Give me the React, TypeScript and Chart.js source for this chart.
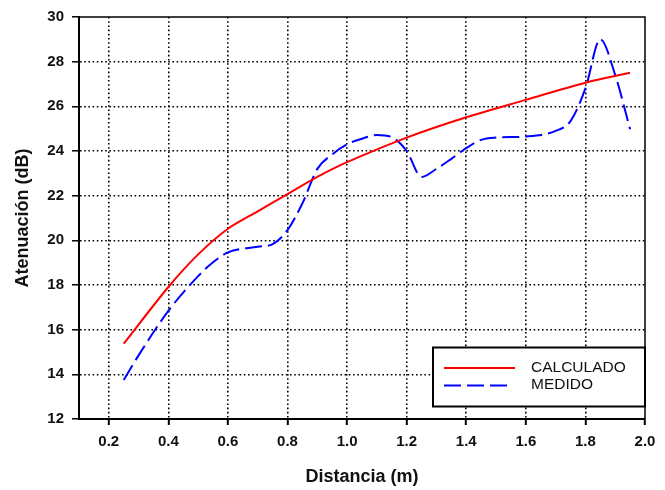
import React, { useEffect, useRef } from "react";
import { Chart, registerables } from "chart.js";

Chart.register(...registerables);

const calcX = [0.25, 0.4, 0.5, 0.6, 0.7, 0.8, 0.9, 1.0, 1.2, 1.4, 1.6, 1.8, 1.95];
const calcY = [15.37, 17.91, 19.37, 20.52, 21.3, 22.07, 22.84, 23.5, 24.6, 25.51, 26.29, 27.06, 27.5];

const medX = [0.25, 0.3, 0.4, 0.5, 0.55, 0.6, 0.7, 0.75, 0.8, 0.85, 0.9, 0.95, 1.0, 1.05, 1.1, 1.15, 1.2, 1.25, 1.3, 1.35, 1.4, 1.45, 1.5, 1.6, 1.7, 1.75, 1.8, 1.85, 1.9, 1.95];
const medY = [13.75, 14.85, 16.84, 18.4, 19.02, 19.46, 19.71, 19.83, 20.46, 21.66, 23.2, 23.85, 24.3, 24.55, 24.72, 24.62, 24.0, 22.84, 23.2, 23.65, 24.13, 24.5, 24.6, 24.65, 24.9, 25.34, 26.8, 29.0, 27.4, 24.97];

const xTicks = [0.2, 0.4, 0.6, 0.8, 1.0, 1.2, 1.4, 1.6, 1.8, 2.0];
const yTicks = [12, 14, 16, 18, 20, 22, 24, 26, 28, 30];

const seriesLabels = ["CALCULADO", "MEDIDO"];
const xTitle = "Distancia (m)";
const yTitle = "Atenuación (dB)";

const FONT = "'Liberation Sans', Arial, sans-serif";
const TEXT = "#111";

const framePlugin = {
  id: "frame",
  afterDatasetsDraw(chart: any) {
    const { ctx, chartArea } = chart;
    ctx.save();
    ctx.strokeStyle = "#000";
    ctx.lineWidth = 1.5;
    ctx.setLineDash([]);
    ctx.beginPath();
    ctx.moveTo(chartArea.left, chartArea.top);
    ctx.lineTo(chartArea.right, chartArea.top);
    ctx.lineTo(chartArea.right, chartArea.bottom);
    ctx.stroke();
    ctx.restore();
  },
};

const boxLegendPlugin = {
  id: "boxLegend",
  afterDraw(chart: any) {
    const { ctx, chartArea } = chart;
    const w = 212;
    const h = 59;
    const right = chartArea.right;
    const bottom = chartArea.bottom - 12.5;
    const left = right - w;
    const top = bottom - h;
    ctx.save();
    ctx.fillStyle = "#fff";
    ctx.fillRect(left, top, w, h);
    ctx.strokeStyle = "#000";
    ctx.lineWidth = 2;
    ctx.setLineDash([]);
    ctx.strokeRect(left, top, w, h);
    chart.data.datasets.forEach((ds: any, i: number) => {
      const y = top + 20.5 + i * 17.5;
      ctx.beginPath();
      ctx.setLineDash(ds.borderDash || []);
      ctx.strokeStyle = ds.borderColor;
      ctx.lineWidth = ds.borderWidth;
      ctx.moveTo(left + 11, y);
      ctx.lineTo(left + (i === 0 ? 82 : 75), y);
      ctx.stroke();
      ctx.setLineDash([]);
      ctx.fillStyle = TEXT;
      ctx.font = `15.5px ${FONT}`;
      ctx.textBaseline = "middle";
      ctx.textAlign = "left";
      ctx.fillText(ds.label, left + 98, y - 0.5);
    });
    ctx.restore();
  },
};

export default function App() {
  const ref = useRef<HTMLCanvasElement | null>(null);

  useEffect(() => {
    if (!ref.current) return;
    const chart = new Chart(ref.current, {
      type: "line",
      data: {
        datasets: [
          {
            label: seriesLabels[0],
            data: calcX.map((x, i) => ({ x, y: calcY[i] })),
            borderColor: "#ff0000",
            borderWidth: 2,
            pointRadius: 0,
            fill: false,
            tension: 0.3,
          },
          {
            label: seriesLabels[1],
            data: medX.map((x, i) => ({ x, y: medY[i] })),
            borderColor: "#0000ff",
            borderWidth: 2,
            borderDash: [17, 6],
            pointRadius: 0,
            fill: false,
            cubicInterpolationMode: "monotone",
          },
        ],
      },
      options: {
        responsive: false,
        animation: false,
        devicePixelRatio: 1,
        layout: { padding: { left: 0, top: 11, right: 20, bottom: 0 } },
        plugins: {
          legend: { display: false },
          tooltip: { enabled: false },
        },
        scales: {
          x: {
            type: "linear",
            min: 0.1,
            max: 2.0,
            afterBuildTicks: (s: any) => {
              s.ticks = xTicks.map((v) => ({ value: v }));
            },
            afterFit: (s: any) => {
              s.height = 71;
            },
            ticks: {
              autoSkip: false,
              maxRotation: 0,
              padding: 8,
              color: TEXT,
              font: { family: FONT, size: 15, weight: "bold" },
              callback: (v: any) => Number(v).toFixed(1),
            },
            grid: {
              color: (c: any) =>
                c.tick && (c.tick.value >= 1.999 || c.tick.value <= 0.101) ? "rgba(0,0,0,0)" : "#000",
              lineWidth: 1.6,
              tickColor: "#000",
              tickWidth: 2,
              tickLength: 6,
            },
            border: { display: true, color: "#000", width: 2, dash: [1.6, 2.6] },
            title: {
              display: true,
              text: xTitle,
              color: TEXT,
              font: { family: FONT, size: 18, weight: "bold" },
              padding: { top: 0, bottom: 2.5 },
            },
          },
          y: {
            type: "linear",
            min: 12,
            max: 30,
            afterBuildTicks: (s: any) => {
              s.ticks = yTicks.map((v) => ({ value: v }));
            },
            afterFit: (s: any) => {
              s.width = 79;
            },
            ticks: {
              autoSkip: false,
              padding: 8,
              color: TEXT,
              font: { family: FONT, size: 15, weight: "bold" },
              callback: (v: any) => String(v),
            },
            grid: {
              color: (c: any) =>
                c.tick && (c.tick.value <= 12.001 || c.tick.value >= 29.999) ? "rgba(0,0,0,0)" : "#000",
              lineWidth: 1.6,
              tickColor: "#000",
              tickWidth: 1.5,
              tickLength: 7,
            },
            border: { display: true, color: "#000", width: 2, dash: [1.6, 2.6] },
            title: {
              display: true,
              text: yTitle,
              color: TEXT,
              font: { family: FONT, size: 18, weight: "bold" },
              padding: { top: 12, bottom: 0 },
            },
          },
        },
      } as any,
      plugins: [framePlugin, boxLegendPlugin],
    });
    return () => chart.destroy();
  }, []);

  return (
    <div style={{ position: "fixed", left: 0, top: 0, width: 665, height: 490, background: "#fff" }}>
      <canvas ref={ref} width={665} height={490} style={{ display: "block" }} />
    </div>
  );
}
